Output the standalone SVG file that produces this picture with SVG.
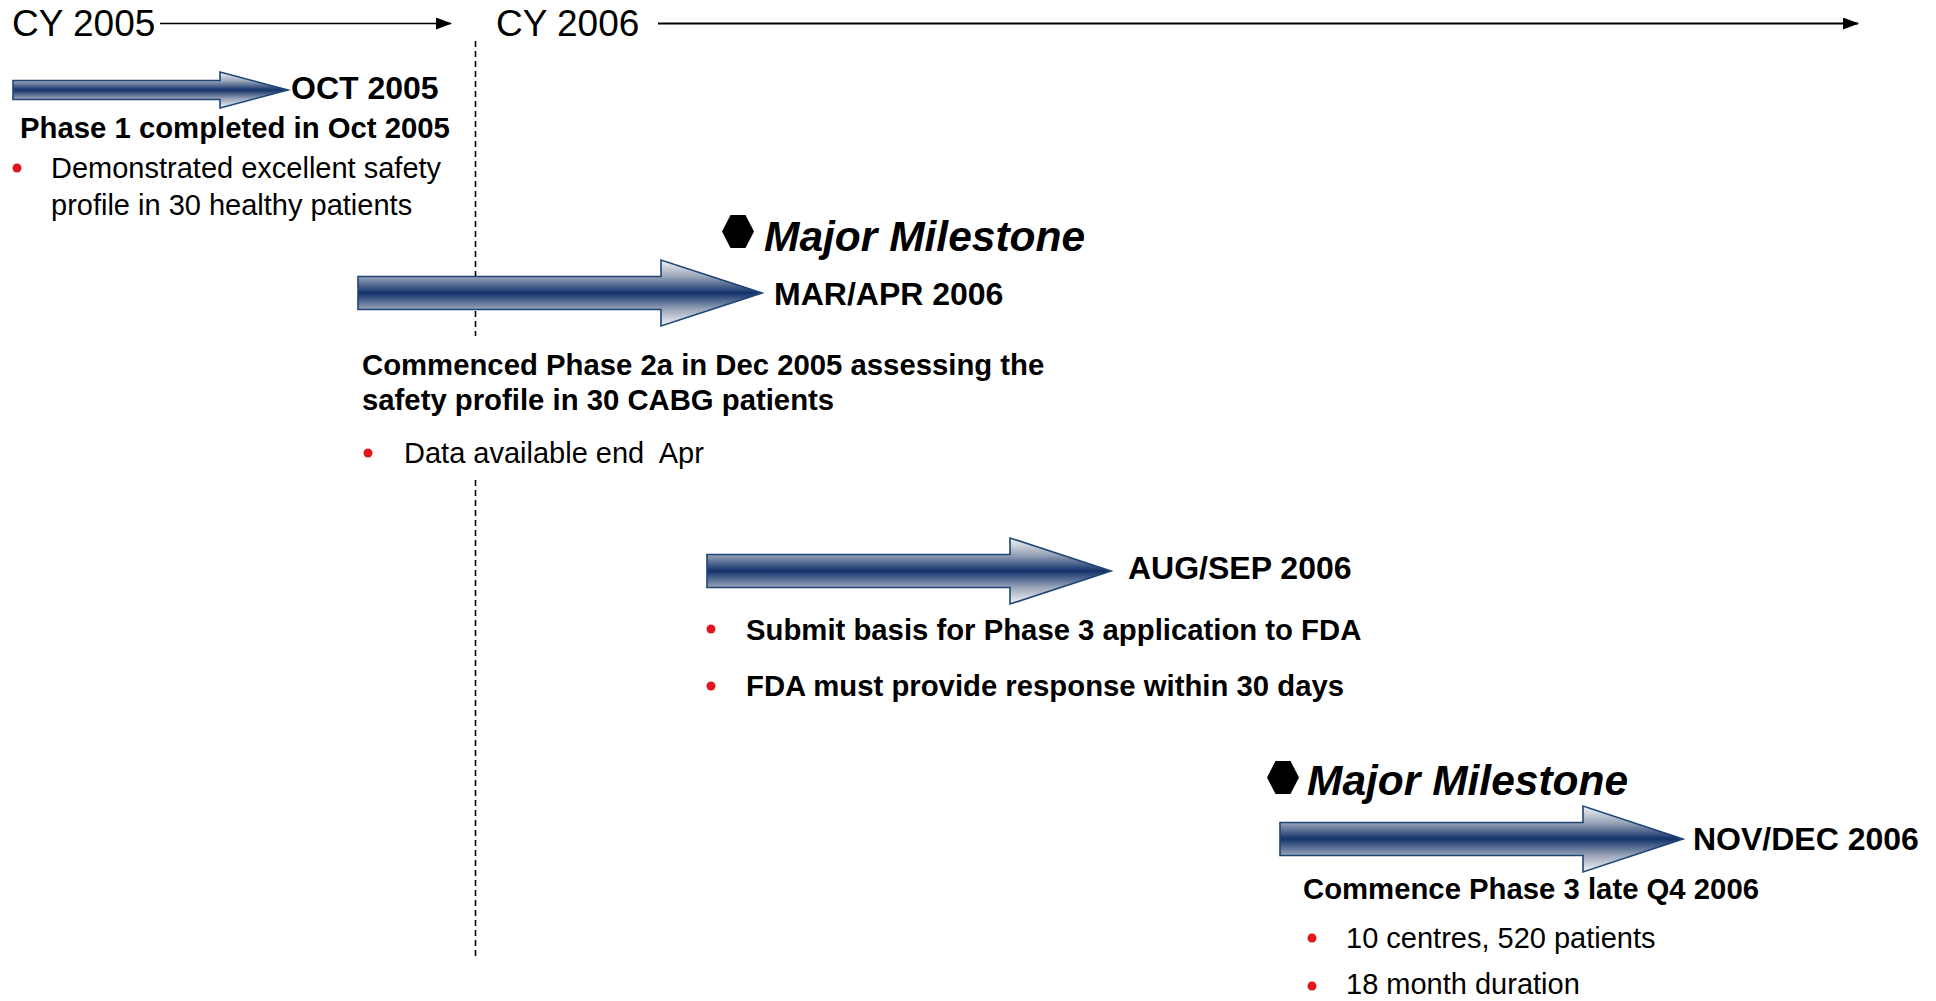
<svg xmlns="http://www.w3.org/2000/svg" width="1936" height="1001" viewBox="0 0 1936 1001">
<style>
  text { font-family: "Liberation Sans", Arial, sans-serif; fill: #000; }
  .hdr { font-size: 37px; }
  .date { font-size: 32px; font-weight: bold; }
  .bold { font-size: 29.3px; font-weight: bold; }
  .reg { font-size: 29px; }
  .ms { font-size: 42.5px; font-weight: bold; font-style: italic; }
  .bul { fill: #e2141c; }
  .arrow { fill: url(#arrowGrad); stroke: #1d4576; stroke-width: 1.6; stroke-linejoin: miter; }
  .axis { stroke: #000; fill: none; }
  .hex { fill: #000; }
</style>
<defs>
  <linearGradient id="arrowGrad" x1="0" y1="0" x2="0" y2="1">
    <stop offset="0" stop-color="#f4f5f8"/>
    <stop offset="0.25" stop-color="#9aa5b9"/>
    <stop offset="0.5" stop-color="#12326a"/>
    <stop offset="0.75" stop-color="#9aa5b9"/>
    <stop offset="1" stop-color="#f4f5f8"/>
  </linearGradient>
  <marker id="tri" markerWidth="16" markerHeight="12" refX="15" refY="6" orient="auto" markerUnits="userSpaceOnUse">
    <path d="M0,0 L16,6 L0,12 Z" fill="#000"/>
  </marker>
</defs>

<g id="connectors">
  <line class="axis" x1="160" y1="23.5" x2="451" y2="23.5" stroke-width="1.6" marker-end="url(#tri)"/>
  <line class="axis" x1="658" y1="23.5" x2="1858" y2="23.5" stroke-width="2" marker-end="url(#tri)"/>
  <line class="axis" x1="475.5" y1="41" x2="475.5" y2="336" stroke-width="1.6" stroke-dasharray="6 4"/>
  <line class="axis" x1="475.5" y1="480" x2="475.5" y2="958" stroke-width="1.6" stroke-dasharray="6 4"/>
</g>

<g id="header">
  <text class="hdr" x="12" y="36">CY 2005</text>
  <text class="hdr" x="496" y="36">CY 2006</text>
</g>

<g id="phase1">
  <path class="arrow" d="M13,80.5 L220,80.5 L220,72 L288,90 L220,108 L220,99.5 L13,99.5 Z"/>
  <text class="date" x="291" y="99">OCT 2005</text>
  <text class="bold" x="20" y="138">Phase 1 completed in Oct 2005</text>
  <circle class="bul" cx="17" cy="168" r="4.5"/>
  <text class="reg" x="51" y="178">Demonstrated excellent safety</text>
  <text class="reg" x="51" y="215">profile in 30 healthy patients</text>
</g>

<g id="milestone1">
  <path class="hex" d="M730.5,215 L745.5,215 L754,231.5 L745.5,248 L730.5,248 L722,231.5 Z"/>
  <text class="ms" x="764" y="251">Major Milestone</text>
</g>

<g id="phase2a">
  <path class="arrow" d="M358,276.5 L661,276.5 L661,260 L762,293 L661,326 L661,309.5 L358,309.5 Z"/>
  <text class="date" x="774" y="305">MAR/APR 2006</text>
  <text class="bold" x="362" y="375">Commenced Phase 2a in Dec 2005 assessing the</text>
  <text class="bold" x="362" y="410">safety profile in 30 CABG patients</text>
  <circle class="bul" cx="368" cy="453" r="4.5"/>
  <text class="reg" x="404" y="463" xml:space="preserve">Data available end  Apr</text>
</g>

<g id="submission">
  <path class="arrow" d="M707,554.5 L1010,554.5 L1010,538 L1111,571 L1010,604 L1010,587.5 L707,587.5 Z"/>
  <text class="date" x="1128" y="579">AUG/SEP 2006</text>
  <circle class="bul" cx="711" cy="629" r="4.5"/>
  <text class="bold" x="746" y="640">Submit basis for Phase 3 application to FDA</text>
  <circle class="bul" cx="711" cy="686" r="4.5"/>
  <text class="bold" x="746" y="696">FDA must provide response within 30 days</text>
</g>

<g id="milestone2">
  <path class="hex" d="M1275.5,761 L1290.5,761 L1299,777.5 L1290.5,794 L1275.5,794 L1267,777.5 Z"/>
  <text class="ms" x="1307" y="795">Major Milestone</text>
</g>

<g id="phase3">
  <path class="arrow" d="M1280,822.5 L1583,822.5 L1583,806 L1683,839 L1583,872 L1583,855.5 L1280,855.5 Z"/>
  <text class="date" x="1693" y="850">NOV/DEC 2006</text>
  <text class="bold" x="1303" y="899">Commence Phase 3 late Q4 2006</text>
  <circle class="bul" cx="1312" cy="938" r="4.5"/>
  <text class="reg" x="1346" y="948">10 centres, 520 patients</text>
  <circle class="bul" cx="1312" cy="986" r="4.5"/>
  <text class="reg" x="1346" y="994">18 month duration</text>
</g>
</svg>
